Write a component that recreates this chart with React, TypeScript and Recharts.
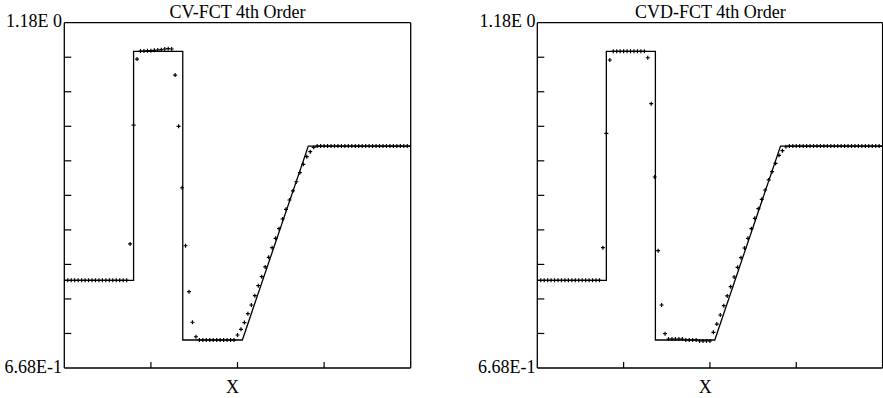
import React from 'react';
import { ComposedChart, Line, Scatter, XAxis, YAxis, ReferenceLine } from 'recharts';

// grid nodes (x positions of computed cells)
const xNodes = [
  0, 0.01, 0.02, 0.03, 0.04, 0.05, 0.06, 0.07, 0.08, 0.09,
  0.1, 0.11, 0.12, 0.13, 0.14, 0.15, 0.16, 0.17, 0.18, 0.19,
  0.2, 0.21, 0.22, 0.23, 0.24, 0.25, 0.26, 0.27, 0.28, 0.29,
  0.3, 0.31, 0.32, 0.33, 0.34, 0.35, 0.36, 0.37, 0.38, 0.39,
  0.4, 0.41, 0.42, 0.43, 0.44, 0.45, 0.46, 0.47, 0.48, 0.49,
  0.5, 0.51, 0.52, 0.53, 0.54, 0.55, 0.56, 0.57, 0.58, 0.59,
  0.6, 0.61, 0.62, 0.63, 0.64, 0.65, 0.66, 0.67, 0.68, 0.69,
  0.7, 0.71, 0.72, 0.73, 0.74, 0.75, 0.76, 0.77, 0.78, 0.79,
  0.8, 0.81, 0.82, 0.83, 0.84, 0.85, 0.86, 0.87, 0.88, 0.89,
  0.9, 0.91, 0.92, 0.93, 0.94, 0.95, 0.96, 0.97, 0.98, 0.99,
  1.0,
];

// CV-FCT 4th order computed values
const cvFct = [
  0.798, 0.798, 0.798, 0.798, 0.798, 0.798, 0.798, 0.798, 0.798, 0.798,
  0.798, 0.798, 0.798, 0.798, 0.798, 0.798, 0.798, 0.798, 0.798, 0.852,
  1.028, 1.126, 1.138, 1.138, 1.1385, 1.1385, 1.139, 1.1395, 1.14, 1.141,
  1.1415, 1.141, 1.1024, 1.0264, 0.9353, 0.8493, 0.7811, 0.7358, 0.7143, 0.7095,
  0.7095, 0.7095, 0.7095, 0.7095, 0.7095, 0.7095, 0.7095, 0.7095, 0.7095, 0.7095,
  0.7169, 0.7254, 0.7353, 0.7485, 0.7614, 0.7752, 0.79, 0.8034, 0.8178, 0.8321,
  0.8464, 0.8603, 0.8746, 0.8889, 0.9033, 0.9171, 0.9305, 0.9442, 0.9576, 0.97,
  0.9813, 0.9887, 0.9952, 0.997, 0.997, 0.997, 0.997, 0.997, 0.997, 0.997,
  0.997, 0.997, 0.997, 0.997, 0.997, 0.997, 0.997, 0.997, 0.997, 0.997,
  0.997, 0.997, 0.997, 0.997, 0.997, 0.997, 0.997, 0.997, 0.997, 0.997,
  0.997,
];

// CVD-FCT 4th order computed values
const cvdFct = [
  0.798, 0.798, 0.798, 0.798, 0.798, 0.798, 0.798, 0.798, 0.798, 0.798,
  0.798, 0.798, 0.798, 0.798, 0.798, 0.798, 0.798, 0.798, 0.798, 0.8464,
  1.016, 1.1247, 1.1376, 1.1376, 1.1376, 1.1376, 1.1376, 1.1376, 1.1376, 1.1376,
  1.1376, 1.1376, 1.128, 1.0599, 0.9512, 0.8419, 0.7614, 0.7189, 0.711, 0.711,
  0.711, 0.711, 0.711, 0.7095, 0.7095, 0.7095, 0.7095, 0.708, 0.708, 0.708,
  0.708, 0.7209, 0.7332, 0.7466, 0.7604, 0.7748, 0.7886, 0.8029, 0.8173, 0.8316,
  0.8459, 0.8603, 0.8746, 0.89, 0.9042, 0.9181, 0.9319, 0.9468, 0.9591, 0.9715,
  0.9834, 0.9902, 0.9961, 0.997, 0.997, 0.997, 0.997, 0.997, 0.997, 0.997,
  0.997, 0.997, 0.997, 0.997, 0.997, 0.997, 0.997, 0.997, 0.997, 0.997,
  0.997, 0.997, 0.997, 0.997, 0.997, 0.997, 0.997, 0.997, 0.997, 0.997,
  0.997,
];

// exact solution polyline
const exactX = [0, 0.2, 0.2, 0.342, 0.342, 0.514, 0.7044, 1];
const exactY = [0.798, 0.798, 1.1376, 1.1376, 0.7095, 0.7095, 0.997, 0.997];

const yMin = 0.668;
const yMax = 1.18;
const yTicks = [0.7192, 0.7704, 0.8216, 0.8728, 0.924, 0.9752, 1.0264, 1.0776, 1.1288];
const xTicks = [0.25, 0.5, 0.75];
const yLabelBottom = '6.68E-1';
const yLabelTop = '1.18E 0';
const xLabel = 'X';
const titles = ['CV-FCT 4th Order', 'CVD-FCT 4th Order'];

const FONT = '"Liberation Serif", "Times New Roman", serif';

const exactData = exactX.map((x, i) => ({ x, y: exactY[i] }));
const cvData = xNodes.map((x, i) => ({ x, y: cvFct[i] }));
const cvdData = xNodes.map((x, i) => ({ x, y: cvdFct[i] }));

const PLOT_TOP = 22.7;
const PLOT_BOTTOM = 368;
const H = 398;
const AX = 10; // axis box size reserved (width of YAxis, height of XAxis)

const panels = [
  { left: 0, width: 441, plotLeft: 64.3, plotWidth: 346.4, data: cvData, title: titles[0] },
  { left: 473.4, width: 409.6, plotLeft: 64.3, plotWidth: 345.3, data: cvdData, title: titles[1] },
];

const XTick = (props: any) => {
  const { x, y } = props;
  return <line x1={x} x2={x} y1={y} y2={y - 6} stroke="#000" strokeWidth={1.2} />;
};
const YTick = (props: any) => {
  const { x, y } = props;
  return <line x1={x} x2={x + 7} y1={y} y2={y} stroke="#000" strokeWidth={1.2} />;
};
const Plus = (props: any) => {
  const { cx, cy } = props;
  if (cx == null || cy == null) return <g />;
  const a = 2;
  return (
    <path
      d={`M${cx - a},${cy}H${cx + a}M${cx},${cy - a}V${cy + a}`}
      stroke="#000"
      strokeWidth={1.2}
      fill="none"
    />
  );
};

function Panel({ p }: { p: typeof panels[number] }) {
  return (
    <div style={{ position: 'absolute', left: p.left, top: 0 }}>
      <ComposedChart
        width={p.width}
        height={H}
        margin={{
          top: PLOT_TOP,
          left: p.plotLeft - AX,
          right: p.width - p.plotLeft - p.plotWidth,
          bottom: H - PLOT_BOTTOM - AX,
        }}
      >
        <XAxis
          dataKey="x"
          type="number"
          domain={[0, 1]}
          ticks={xTicks}
          interval={0}
          height={AX}
          tickSize={0}
          tickMargin={0}
          tickLine={false}
          tick={XTick}
          axisLine={{ stroke: '#000', strokeWidth: 1.3 }}
          allowDataOverflow
        />
        <YAxis
          dataKey="y"
          type="number"
          domain={[yMin, yMax]}
          ticks={yTicks}
          interval={0}
          width={AX}
          tickSize={0}
          tickMargin={0}
          tickLine={false}
          tick={YTick}
          axisLine={{ stroke: '#000', strokeWidth: 1.3 }}
          allowDataOverflow
        />
        <ReferenceLine y={yMax} stroke="#000" strokeWidth={1.3} ifOverflow="visible" />
        <ReferenceLine x={1} stroke="#000" strokeWidth={1.3} ifOverflow="visible" />
        <Line
          data={exactData}
          dataKey="y"
          type="linear"
          stroke="#000"
          strokeWidth={1.3}
          dot={false}
          activeDot={false}
          isAnimationActive={false}
        />
        <Scatter data={p.data} shape={Plus} isAnimationActive={false} />
      </ComposedChart>
    </div>
  );
}

export default function App() {
  return (
    <div
      style={{
        position: 'absolute',
        left: 0,
        top: 0,
        width: 883,
        height: H,
        overflow: 'hidden',
        background: '#fff',
      }}
    >
      {panels.map((p, i) => (
        <Panel key={i} p={p} />
      ))}
      <svg
        width={883}
        height={H}
        style={{ position: 'absolute', left: 0, top: 0, pointerEvents: 'none' }}
      >
        {panels.map((p, i) => {
          const axisX = p.left + p.plotLeft;
          const center = axisX + p.plotWidth / 2;
          return (
            <g key={i} fontFamily={FONT} fontSize={18} fill="#000">
              <text x={center} y={18.3} textAnchor="middle">
                {p.title}
              </text>
              <text x={axisX - 2.3} y={27.3} textAnchor="end">
                {yLabelTop}
              </text>
              <text x={axisX - 2.3} y={373.3} textAnchor="end">
                {yLabelBottom}
              </text>
              <text x={center - 5} y={392.7} textAnchor="middle">
                {xLabel}
              </text>
            </g>
          );
        })}
      </svg>
    </div>
  );
}
